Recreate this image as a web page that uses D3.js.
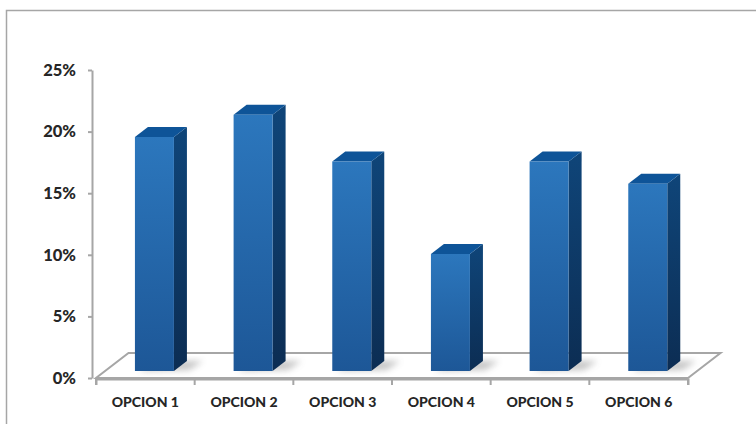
<!DOCTYPE html>
<html>
<head>
<meta charset="utf-8">
<script src="https://cdn.jsdelivr.net/npm/d3@7"></script>
<style>
  body { margin: 0; background: #fff; }
</style>
</head>
<body>
<main></main>
<script>
// Data
const categories = ["OPCION 1", "OPCION 2", "OPCION 3", "OPCION 4", "OPCION 5", "OPCION 6"];
const values = [19, 20.8, 17, 9.5, 17, 15.2];
const yTicks = [0, 5, 10, 15, 20, 25];

function drawChart() {
	const width = 756;
	const height = 424;

	// oblique depth: each depth unit moves right by kx and up by 1
	const kx = 1.3;
	const floorDepth = 25;
	const barZ0 = 7, barZ1 = 17;

	const svg = d3.select("main")
		.append("svg")
			.attr("width", width)
			.attr("height", height);

	const defs = svg.append("defs");
	const front = defs.append("linearGradient").attr("id", "front").attr("x1", 0).attr("y1", 0).attr("x2", 0).attr("y2", 1);
	front.append("stop").attr("offset", "0%").attr("stop-color", "#2c77bd");
	front.append("stop").attr("offset", "100%").attr("stop-color", "#1d5797");
	const side = defs.append("linearGradient").attr("id", "side").attr("x1", 0).attr("y1", 0).attr("x2", 0).attr("y2", 1);
	side.append("stop").attr("offset", "0%").attr("stop-color", "#0f4579");
	side.append("stop").attr("offset", "100%").attr("stop-color", "#0c2d53");
	defs.append("filter").attr("id", "blur")
		.attr("x", "-50%").attr("y", "-50%").attr("width", "200%").attr("height", "200%")
		.append("feGaussianBlur").attr("stdDeviation", 3);

	// outer frame
	svg.append("rect")
		.attr("x", 6.5).attr("y", 10.5)
		.attr("width", 800).attr("height", 500)
		.attr("fill", "none")
		.attr("stroke", "#a6a6a6")
		.attr("stroke-width", 1.5);

	// scales
	const xScale = d3.scaleBand()
		.domain(categories)
		.range([96, 688]);

	const yScale = d3.scaleLinear()
		.domain([0, 25])
		.range([378, 70]);

	const project = (x, v, z) => [x + kx * z, yScale(v) - z];

	// floor
	const [x0, x1] = xScale.range();
	const floor = [project(x0, 0, 0), project(x1, 0, 0), project(x1, 0, floorDepth), project(x0, 0, floorDepth)];
	svg.append("polygon")
		.attr("points", floor.map(p => p.join(",")).join(" "))
		.attr("fill", "#fff")
		.attr("stroke", "#a6a6a6")
		.attr("stroke-width", 2)
		.attr("stroke-linejoin", "miter");

	// category axis
	const xAxis = svg.append("g")
		.attr("transform", "translate(0,379)")
		.call(d3.axisBottom(xScale).tickSize(6).tickSizeOuter(6).tickPadding(12));
	xAxis.select(".domain").attr("stroke", "#a6a6a6").attr("stroke-width", 2);
	xAxis.selectAll(".tick line").remove();
	xAxis.selectAll(".tick text")
		.attr("font-size", 14)
		.attr("fill", "#262626")
		.attr("font-family", "Lato, sans-serif")
		.attr("font-weight", 900);
	xAxis.append("g").selectAll("line")
		.data(d3.range(categories.length + 1))
		.join("line")
		.attr("x1", i => x0 + i * xScale.bandwidth())
		.attr("x2", i => x0 + i * xScale.bandwidth())
		.attr("y1", 0).attr("y2", 6)
		.attr("stroke", "#a6a6a6").attr("stroke-width", 2);

	// value axis
	const yAxis = svg.append("g")
		.attr("transform", "translate(92,0)")
		.call(d3.axisLeft(yScale).tickValues(yTicks).tickFormat(d => d + "%").tickSize(4).tickSizeOuter(0).tickPadding(12));
	yAxis.select(".domain").attr("stroke", "#a6a6a6").attr("stroke-width", 2);
	yAxis.selectAll(".tick line").attr("stroke", "#a6a6a6").attr("stroke-width", 2);
	yAxis.selectAll(".tick text")
		.attr("font-size", 16.5)
		.attr("fill", "#262626")
		.attr("font-family", "Lato, sans-serif")
		.attr("font-weight", 900);

	// bars
	const barW = 39;
	const bars = svg.append("g")
		.selectAll("g")
		.data(values)
		.join("g");

	const left = (d, i) => xScale(categories[i]) + xScale.bandwidth() / 2 - barW / 2;
	const pts = arr => arr.map(p => p.join(",")).join(" ");

	// shadow on the floor
	bars.append("polygon")
		.attr("points", (d, i) => {
			const l = left(d, i), r = l + barW;
			return pts([project(l + 4, 0, barZ0), project(r + 14, 0, barZ0 + 1), project(r + 16, 0, barZ1), project(l + 8, 0, barZ1)]);
		})
		.attr("fill", "#7f7f7f")
		.attr("opacity", 0.45)
		.attr("filter", "url(#blur)");

	// side
	bars.append("polygon")
		.attr("points", (d, i) => {
			const r = left(d, i) + barW;
			return pts([project(r, 0, barZ0), project(r, 0, barZ1), project(r, d, barZ1), project(r, d, barZ0)]);
		})
		.attr("fill", "url(#side)");

	// top
	bars.append("polygon")
		.attr("points", (d, i) => {
			const l = left(d, i), r = l + barW;
			return pts([project(l, d, barZ0), project(r, d, barZ0), project(r, d, barZ1), project(l, d, barZ1)]);
		})
		.attr("fill", "#0e5498");

	// front
	bars.append("polygon")
		.attr("points", (d, i) => {
			const l = left(d, i), r = l + barW;
			return pts([project(l, 0, barZ0), project(r, 0, barZ0), project(r, d, barZ0), project(l, d, barZ0)]);
		})
		.attr("fill", "url(#front)");
}

drawChart();
</script>
</body>
</html>
